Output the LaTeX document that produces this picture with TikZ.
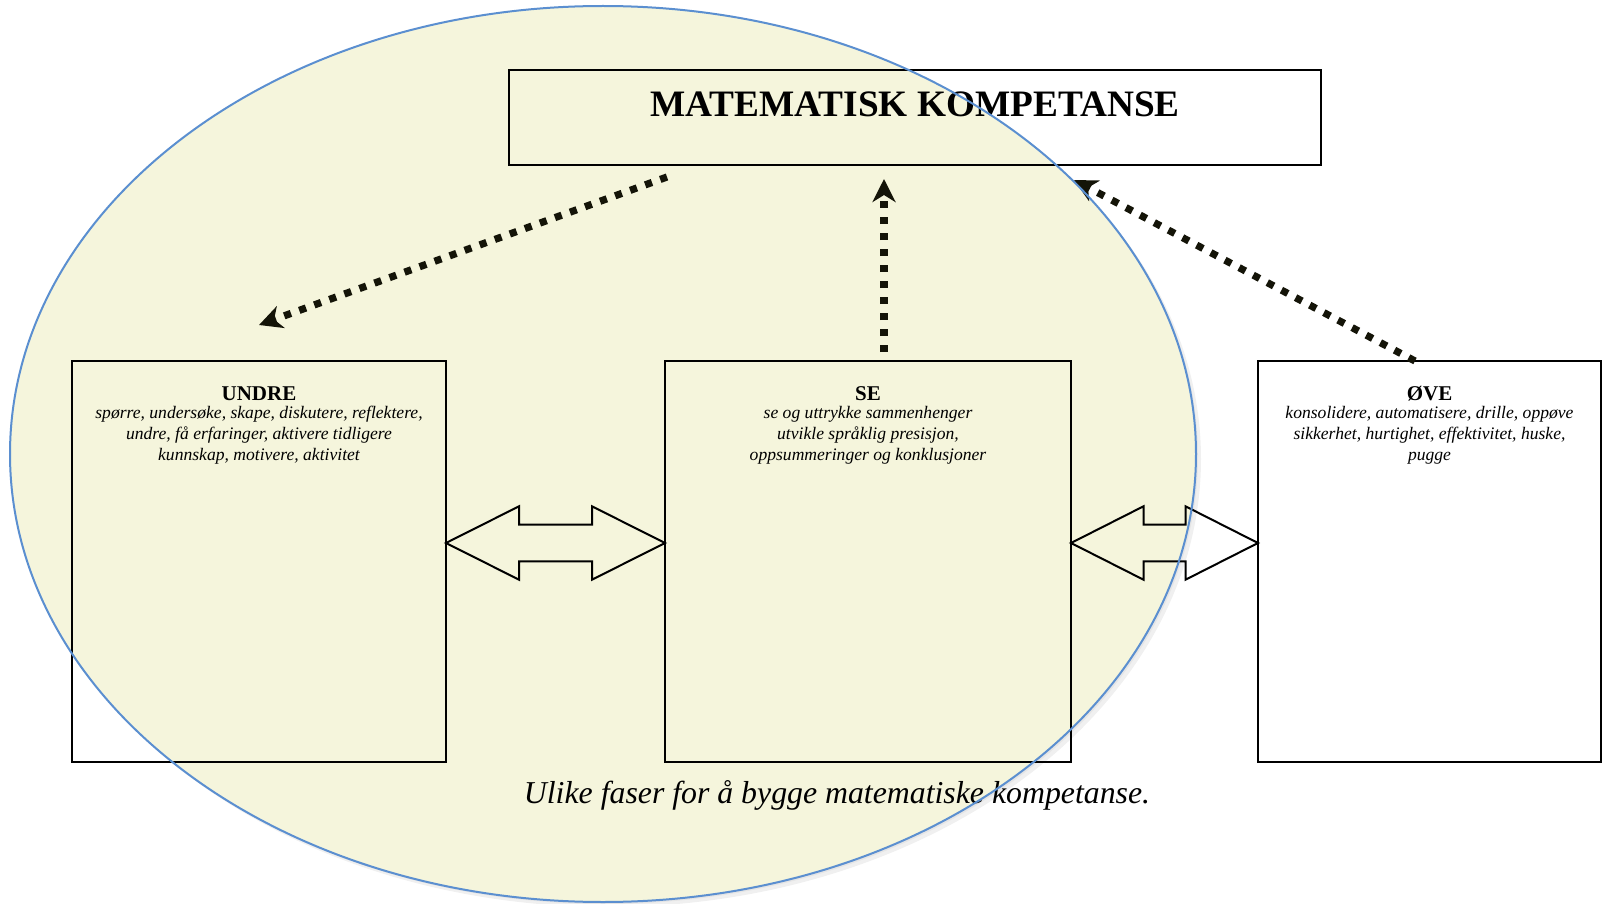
\documentclass[tikz,border=0pt]{standalone}
\usepackage{fontspec}
\setmainfont{Liberation Serif}
\usetikzlibrary{arrows.meta}
\definecolor{ellfill}{HTML}{F5F5DC}
\definecolor{ellline}{HTML}{5B8FD0}
\definecolor{darkink}{HTML}{141408}
\begin{document}
\begin{tikzpicture}[x=0.5pt,y=-0.5pt,
  box/.style={draw=black,line width=1pt,inner sep=0pt},
  boxtext/.style={inner sep=0pt,align=center,anchor=north,font=\itshape\fontsize{8.8}{10.5}\selectfont},
  dotarrow/.style={draw=darkink,line width=3.6pt,dash pattern=on 3.6pt off 4.4pt,-{Stealth[length=11.5pt,width=11.5pt,inset=3.5pt]}},
  dblarrow/.style={draw=black,line width=1pt,line join=miter}]
\useasboundingbox (0,0) rectangle (1608,904);
% ellipse (background)
\fill[black!6] (608,459) ellipse [x radius=593, y radius=448];
\fill[black!10] (605,456) ellipse [x radius=593, y radius=448];
\fill[ellfill] (603,454) ellipse [x radius=593, y radius=448];
% boxes
\node[box,minimum width=406pt,minimum height=47.5pt] (title) at (915,117.5) {};
\node[font=\bfseries\fontsize{18.65}{22}\selectfont,anchor=base,inner sep=0pt] (titletext) at (915,117) {MATEMATISK KOMPETANSE};
\node[box,minimum width=187pt,minimum height=200.5pt] (undre) at (259,561.5) {};
\node[box,minimum width=203pt,minimum height=200.5pt] (se) at (868,561.5) {};
\node[box,minimum width=171.5pt,minimum height=200.5pt] (ove) at (1429.5,561.5) {};
% box texts
\node[boxtext] (undreT) at (259,386) {{\normalfont\bfseries\fontsize{10.5}{10.5}\selectfont UNDRE}\\[-1.35pt]
spørre, undersøke, skape, diskutere, reflektere,\\
undre, få erfaringer, aktivere tidligere\\
kunnskap, motivere, aktivitet};
\node[boxtext] (seT) at (868,386) {{\normalfont\bfseries\fontsize{10.5}{10.5}\selectfont SE}\\[-1.35pt]
se og uttrykke sammenhenger\\
utvikle språklig presisjon,\\
oppsummeringer og konklusjoner};
\node[boxtext] (oveT) at (1429.5,386) {{\normalfont\bfseries\fontsize{10.5}{10.5}\selectfont ØVE}\\[-1.35pt]
konsolidere, automatisere, drille, oppøve\\
sikkerhet, hurtighet, effektivitet, huske,\\
pugge};
% caption
\node[font=\itshape\fontsize{15.9}{19}\selectfont,anchor=base,inner sep=0pt] (caption) at (837,803) {Ulike faser for å bygge matematiske kompetanse.};
% double arrows
\draw[dblarrow] (446,543) -- (519,506.3) -- (519,524.6) -- (592,524.6) -- (592,506.3) -- (665,543)
  -- (592,579.7) -- (592,561.4) -- (519,561.4) -- (519,579.7) -- cycle;
\draw[dblarrow] (1071,543) -- (1143.5,506.3) -- (1143.5,524.6) -- (1185.5,524.6) -- (1185.5,506.3) -- (1258,543)
  -- (1185.5,579.7) -- (1185.5,561.4) -- (1143.5,561.4) -- (1143.5,579.7) -- cycle;
% dotted arrows
\coordinate (a1s) at (667,177);
\coordinate (a1e) at (259,325);
\coordinate (a2s) at (884,352);
\coordinate (a2e) at (884,179);
\coordinate (a3s) at (1415,361);
\coordinate (a3e) at (1074,180);
\draw[dotarrow] (a1s) -- (a1e);
\draw[dotarrow] (a2s) -- (a2e);
\draw[dotarrow] (a3s) -- (a3e);
% ellipse outline on top
\draw[ellline,line width=1pt] (603,454) ellipse [x radius=593, y radius=448];
\end{tikzpicture}
\end{document}
